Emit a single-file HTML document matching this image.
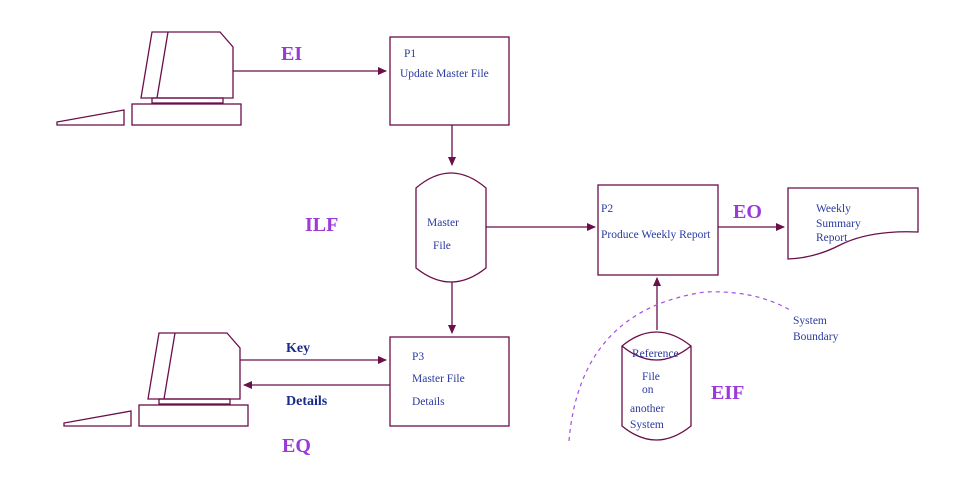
<!DOCTYPE html>
<html><head><style>
body{margin:0;background:#fff}
svg{display:block}
text{font-family:"Liberation Serif",serif}
</style></head><body>
<svg width="965" height="497" viewBox="0 0 965 497" xmlns="http://www.w3.org/2000/svg">
<defs><marker id="a" markerWidth="10" markerHeight="10" refX="8" refY="4" orient="auto" markerUnits="userSpaceOnUse"><path d="M0,0 L9,4 L0,8z" fill="#6b0f4a"/></marker></defs>
<g fill="none" stroke="#6b0f4a" stroke-width="1.3">
<!-- computer 1 -->
<path d="M141,98 L152,32 L220,32 L233,47 L233,98 Z"/>
<path d="M157,98 L168,32"/>
<rect x="152" y="98" width="71" height="5"/>
<rect x="132" y="104" width="109" height="21"/>
<path d="M57,125 L57,122 L124,110 L124,125 Z"/>
<!-- computer 2 -->
<path d="M148,399 L159,333 L227,333 L240,348 L240,399 Z"/>
<path d="M164,399 L175,333"/>
<rect x="159" y="399" width="71" height="5"/>
<rect x="139" y="405" width="109" height="21"/>
<path d="M64,426 L64,423 L131,411 L131,426 Z"/>
<!-- boxes -->
<rect x="390" y="37" width="119" height="88"/>
<rect x="598" y="185" width="120" height="90"/>
<rect x="390" y="337" width="119" height="89"/>
<!-- master file cylinder -->
<path d="M416,188 Q451,158 486,188 L486,268 Q451,296 416,268 Z"/>
<!-- reference cylinder -->
<path d="M622,346 Q656,318 691,346 L691,426 Q656,454 622,426 Z"/>
<path d="M622,346 Q656,374 691,346"/>
<!-- report -->
<path d="M788,188 L918,188 L918,232 Q870,230 840,245 Q815,258 788,259 Z"/>
<!-- arrows -->
<path d="M233,71 L386,71" marker-end="url(#a)"/>
<path d="M452,125 L452,165" marker-end="url(#a)"/>
<path d="M452,282 L452,333" marker-end="url(#a)"/>
<path d="M486,227 L595,227" marker-end="url(#a)"/>
<path d="M718,227 L784,227" marker-end="url(#a)"/>
<path d="M657,330 L657,278" marker-end="url(#a)"/>
<path d="M240,360 L386,360" marker-end="url(#a)"/>
<path d="M390,385 L244,385" marker-end="url(#a)"/>
</g>
<path d="M569,441 Q580,310 705,292 Q755,290 790,310" fill="none" stroke="#a050e0" stroke-width="1.2" stroke-dasharray="4,4"/>
<g fill="#9a3ad8" font-weight="bold" font-size="20">
<text x="281" y="60">EI</text>
<text x="305" y="231">ILF</text>
<text x="733" y="218">EO</text>
<text x="711" y="399">EIF</text>
<text x="282" y="452">EQ</text>
</g>
<g fill="#1a2a8a" font-weight="bold" font-size="14">
<text x="286" y="352">Key</text>
<text x="286" y="405">Details</text>
</g>
<g fill="#2a3aa0" font-size="11.5">
<text x="404" y="57">P1</text>
<text x="400" y="77">Update Master File</text>
<text x="601" y="212">P2</text>
<text x="601" y="238">Produce Weekly Report</text>
<text x="412" y="360">P3</text>
<text x="412" y="382">Master File</text>
<text x="412" y="405">Details</text>
<text x="427" y="226">Master</text>
<text x="433" y="249">File</text>
<text x="632" y="357">Reference</text>
<text x="642" y="380">File</text>
<text x="642" y="393">on</text>
<text x="630" y="412">another</text>
<text x="630" y="428">System</text>
<text x="816" y="212">Weekly</text>
<text x="816" y="227">Summary</text>
<text x="816" y="241">Report</text>
<text x="793" y="324">System</text>
<text x="793" y="340">Boundary</text>
</g>
</svg>
</body></html>
